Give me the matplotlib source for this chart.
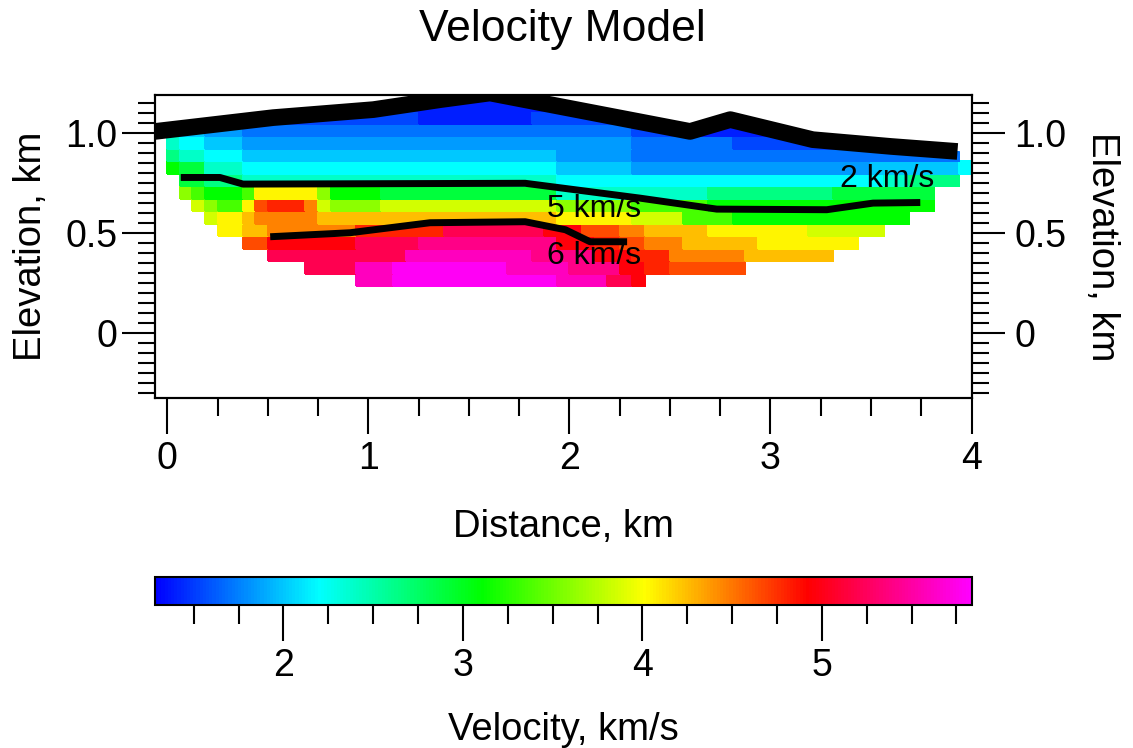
import numpy as np
import matplotlib
matplotlib.use("Agg")
import matplotlib.pyplot as plt
from matplotlib.colors import LinearSegmentedColormap
from matplotlib.ticker import MultipleLocator
from matplotlib.patches import Polygon

plt.rcParams['font.family'] = ['Liberation Sans', 'DejaVu Sans']

# velocity codes read off the colour scale (km/s), '.' = no data
codes = "abcdefghijklmnopqrstuvw"
code_vel = [1.40, 1.55, 1.70, 1.85, 2.00, 2.20, 2.40, 2.65, 2.90, 3.10, 3.35, 3.60,
            3.85, 4.05, 4.25, 4.45, 4.65, 4.80, 4.95, 5.20, 5.40, 5.60, 5.80]

# model cells, 64 columns of 0.0625 km, rows from the deepest one upward,
# run-length coded as (code, number of cells)
rows = [
    [('.', 15), ('v', 3), ('w', 13), ('v', 4), ('t', 2), ('s', 1), ('.', 26)],
    [('.', 11), ('t', 4), ('v', 3), ('w', 9), ('v', 5), ('u', 4), ('s', 2), ('r', 2), ('q', 6), ('.', 18)],
    [('.', 8), ('t', 11), ('v', 10), ('u', 5), ('s', 3), ('r', 3), ('p', 6), ('o', 7), ('.', 11)],
    [('.', 6), ('q', 2), ('s', 7), ('t', 5), ('u', 11), ('s', 3), ('r', 2), ('q', 2), ('p', 3), ('o', 6), ('n', 8), ('.', 9)],
    [('.', 4), ('n', 2), ('o', 2), ('p', 7), ('r', 7), ('t', 8), ('s', 3), ('q', 3), ('p', 2), ('o', 5), ('n', 8), ('m', 6), ('.', 7)],
    [('.', 3), ('m', 1), ('n', 2), ('o', 1), ('p', 5), ('o', 19), ('n', 6), ('m', 4), ('k', 4), ('j', 14), ('.', 5)],
    [('.', 2), ('m', 1), ('l', 1), ('k', 2), ('n', 1), ('q', 1), ('r', 3), ('p', 1), ('m', 1), ('l', 4), ('m', 14), ('l', 6), ('k', 6), ('j', 18), ('.', 3)],
    [('.', 1), ('l', 1), ('k', 1), ('j', 3), ('k', 1), ('n', 5), ('l', 1), ('j', 4), ('i', 14), ('g', 12), ('h', 10), ('i', 8), ('.', 3)],
    [('.', 1), ('i', 2), ('h', 3), ('g', 25), ('f', 26), ('g', 2), ('h', 4), ('.', 1)],
    [('j', 1), ('i', 2), ('g', 3), ('f', 25), ('e', 6), ('d', 19), ('e', 7), ('f', 1)],
    [('h', 1), ('g', 2), ('f', 3), ('e', 25), ('d', 6), ('c', 26), ('.', 1)],
    [('g', 1), ('f', 2), ('e', 3), ('d', 31), ('c', 8), ('b', 4), ('b', 7), ('.', 8)],
    [('f', 1), ('e', 2), ('d', 3), ('c', 31), ('b', 4), ('a', 8), ('.', 15)],
    [('d', 1), ('c', 6), ('b', 13), ('a', 9), ('b', 8), ('b', 4), ('.', 23)],
    [('.', 14), ('b', 4), ('a', 13), ('a', 2), ('.', 31)],
]
cell_size = 0.0625
grid_bottom = 0.235

# surface and the two interfaces (distance km, elevation km)
surf_x = [-0.061, 0.527, 1.025, 1.36, 1.605, 1.853, 2.6, 2.8, 3.21, 3.6, 3.93]
surf_y = [1.008, 1.077, 1.117, 1.167, 1.2, 1.152, 1.008, 1.067, 0.967, 0.933, 0.908]
top_x = [0.067, 0.262, 0.377, 1.78, 2.35, 2.733, 3.28, 3.51, 3.745]
top_y = [0.778, 0.778, 0.745, 0.749, 0.675, 0.62, 0.617, 0.65, 0.653]
bot_x = [0.512, 0.909, 1.307, 1.78, 1.98, 2.103, 2.287]
bot_y = [0.482, 0.502, 0.552, 0.557, 0.517, 0.457, 0.457]

labels = ['2 km/s', '5 km/s', '6 km/s']
label_x = [3.347, 1.888, 1.888]
label_y = [0.771, 0.623, 0.388]

vmin, vmax = 1.284, 5.837

# build the cell grid
lookup = dict(zip(codes, code_vel))
V = np.full((len(rows), 64), np.nan)
for k, row in enumerate(rows):
    vals = []
    for ch, n in row:
        vals += [lookup.get(ch, np.nan)] * n
    assert len(vals) == 64, (k, len(vals))
    V[k] = vals
x_edges = np.arange(65) * cell_size
y_edges = grid_bottom + np.arange(len(rows) + 1) * cell_size

cmap = LinearSegmentedColormap.from_list(
    'vel', ['#0000ff', '#00ffff', '#00ff00', '#ffff00', '#ff0000', '#ff00ff'])

fig = plt.figure(figsize=(11.33, 7.48), dpi=100)
ax = fig.add_axes([0.1368, 0.4675, 0.7207, 0.4055])

mesh = ax.pcolormesh(x_edges, y_edges, np.ma.masked_invalid(V), cmap=cmap,
                     vmin=vmin, vmax=vmax, shading='flat', edgecolors='face', linewidth=0.3)
# the model only exists below the topography
clip = Polygon(list(zip(surf_x + [4.0, 4.0, -0.061], surf_y + [0.905, -0.3, -0.3])),
               closed=True, transform=ax.transData)
mesh.set_clip_path(clip)

ax.plot(surf_x, surf_y, color='black', lw=12, solid_capstyle='butt', solid_joinstyle='round')
ax.plot(top_x, top_y, color='black', lw=5, solid_capstyle='butt', solid_joinstyle='round')
ax.plot(bot_x, bot_y, color='black', lw=5, solid_capstyle='butt', solid_joinstyle='round')
for t, x, y in zip(labels, label_x, label_y):
    ax.text(x, y, t, fontsize=23, ha='left', va='center')

ax.set_xlim(-0.061, 4.0)
ax.set_ylim(-0.325, 1.19)

ax.xaxis.set_major_locator(MultipleLocator(1))
ax.xaxis.set_minor_locator(MultipleLocator(0.25))
ax.set_yticks([0, 0.5, 1.0])
ax.set_yticklabels(['0', '0.5', '1.0'])
ax.yaxis.set_minor_locator(MultipleLocator(0.05))

ax.tick_params(axis='x', which='major', direction='out', length=26, width=1.5, labelsize=27, pad=5)
ax.tick_params(axis='x', which='minor', direction='out', length=13, width=1.5)
ax.tick_params(axis='y', which='major', direction='out', length=24, width=1.5, labelsize=27, pad=3)
ax.tick_params(axis='y', which='minor', direction='out', length=12.5, width=1.5)
for s in ax.spines.values():
    s.set_linewidth(1.5)

ax.set_xlabel('Distance, km', fontsize=27.5, labelpad=23)
ax.set_ylabel('Elevation, km', fontsize=27.5, labelpad=12)

ax2 = ax.twinx()
ax2.set_ylim(ax.get_ylim())
ax2.set_yticks([0, 0.5, 1.0])
ax2.set_yticklabels(['0', '0.5', '1.0'])
ax2.yaxis.set_minor_locator(MultipleLocator(0.05))
ax2.tick_params(axis='y', which='major', direction='out', length=24, width=1.5, labelsize=27, pad=7)
ax2.tick_params(axis='y', which='minor', direction='out', length=12.5, width=1.5)
ax2.set_ylabel('Elevation, km', fontsize=27.5, rotation=270, labelpad=38)
for s in ax2.spines.values():
    s.set_linewidth(1.5)

fig.text(0.4965, 1 - 30 / 748, 'Velocity Model', fontsize=32, ha='center', va='center')

cax = fig.add_axes([0.1368, 0.1912, 0.7211, 0.0374])
cb = fig.colorbar(mesh, cax=cax, orientation='horizontal')
cb.set_ticks([2, 3, 4, 5])
cb.ax.xaxis.set_minor_locator(MultipleLocator(0.25))
cb.ax.tick_params(which='major', direction='out', length=26, width=1.5, labelsize=27, pad=5)
cb.ax.tick_params(which='minor', direction='out', length=14, width=1.5)
cb.outline.set_linewidth(1.5)
cb.set_label('Velocity, km/s', fontsize=27.5, labelpad=20)

fig.savefig('out.png', dpi=100)
